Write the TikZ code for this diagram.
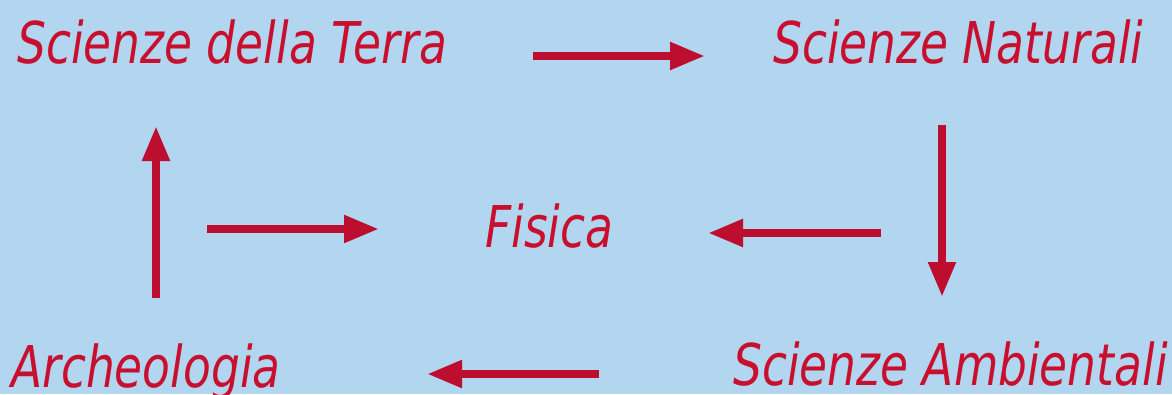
\documentclass[tikz,border=0pt]{standalone}
\usepackage{fontspec}
\setmainfont{DejaVu Sans}[FakeStretch=0.79]
\usetikzlibrary{arrows.meta}
\definecolor{bg}{RGB}{178,213,240}
\definecolor{crim}{RGB}{200,16,46}
\definecolor{arr}{RGB}{190,14,48}
\tikzset{
  lbl/.style={anchor=base west, inner sep=0pt, text=crim, font=\fontsize{57.6}{60}\selectfont\itshape},
  flow/.style={draw=arr, line width=8pt, -{Triangle[length=35pt,width=26pt]}}
}
\begin{document}
\begin{tikzpicture}[x=1pt,y=-1pt]
\fill[bg] (0,0) rectangle (1172,394);
\useasboundingbox (0,0) rectangle (1172,394);
\node[lbl] (terra) at (17,63) {Scienze della Terra};
\node[lbl] (nat) at (773,63) {Scienze Naturali};
\node[lbl] (fis) at (485,247) {Fisica};
\node[lbl] (arch) at (11,387) {Archeologia};
\node[lbl] (amb) at (733,385) {Scienze Ambientali};
\coordinate (a1s) at (533,56);  \coordinate (a1e) at (705,56);
\coordinate (a2s) at (156,298); \coordinate (a2e) at (156,126);
\coordinate (a3s) at (881,233); \coordinate (a3e) at (708,233);
\coordinate (a4s) at (942,125); \coordinate (a4e) at (942,297);
\coordinate (a5s) at (207,229); \coordinate (a5e) at (379,229);
\coordinate (a6s) at (599,374); \coordinate (a6e) at (427,374);
\draw[flow] (a1s) -- (a1e);
\draw[flow] (a2s) -- (a2e);
\draw[flow] (a3s) -- (a3e);
\draw[flow] (a4s) -- (a4e);
\draw[flow] (a5s) -- (a5e);
\draw[flow] (a6s) -- (a6e);
\end{tikzpicture}
\end{document}
